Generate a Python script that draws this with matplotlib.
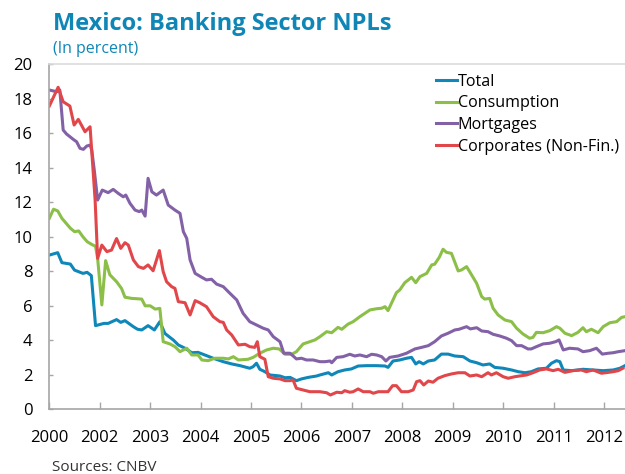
import matplotlib
matplotlib.use("Agg")
import matplotlib.pyplot as plt

# months since the start of the series (Jan of first labelled year = 0)
TOTAL_M = [0, 2, 3, 5, 6, 8, 9, 10, 11, 13, 14, 16, 17, 18, 20, 21, 22, 23.5, 25, 26.3,
           27.5, 28.7, 29.5, 30.7, 32.3, 33.9, 35.4, 37, 39, 41.4, 43.4, 45.4, 47.7, 48.5,
           49.3, 50.1, 51.3, 52.5, 54.9, 56.1, 57.3, 58.8, 60, 61.6, 63.6, 64.4, 66.4, 67.2,
           68.7, 70.3, 71.9, 73.5, 75.5, 77.9, 79.9, 80.6, 81.8, 83.4, 85, 86.2, 87.2, 88,
           89, 90.2, 91.7, 93.3, 94.9, 96.5, 98.5, 100.1, 101.7, 103.2, 104.8, 106, 108,
           110, 111.6, 113.2, 114.7, 116.3, 118.3, 119.5, 120.7, 121.5, 122.3, 124.3, 127,
           129.4, 131.8, 134.2, 135.8, 137]
TOTAL = [8.94, 9.08, 8.5, 8.42, 8.07, 7.88, 7.94, 7.75, 4.85, 4.98, 4.98, 5.2, 5.04, 5.14,
         4.79, 4.64, 4.6, 4.85, 4.6, 5.08, 4.4, 4.17, 4.02, 3.73, 3.54, 3.28, 3.3, 3.15, 2.96,
         2.76, 2.63, 2.53, 2.38, 2.47, 2.67, 2.32, 2.18, 1.99, 1.93, 1.83, 1.85, 1.66, 1.76,
         1.85, 1.93, 1.99, 2.12, 1.99, 2.18, 2.28, 2.34, 2.51, 2.53, 2.53, 2.51, 2.43, 2.8,
         2.86, 2.96, 3.01, 2.63, 2.76, 2.63, 2.8, 2.86, 3.2, 3.2, 3.09, 3.05, 2.8, 2.7, 2.57,
         2.63, 2.43, 2.38, 2.28, 2.18, 2.12, 2.18, 2.34, 2.38, 2.67, 2.82, 2.76, 2.28, 2.24,
         2.32, 2.28, 2.24, 2.28, 2.38, 2.53]

CONS_M = [0, 1, 2, 3, 5, 6, 7, 8, 9, 10, 11, 11.5, 12.5, 13.4, 14.4, 16, 17.2, 18, 19.6, 22,
          22.8, 24, 25.2, 26.3, 27.1, 28.7, 29.9, 31.1, 32.7, 33.9, 35.4, 36.3, 37.8, 39.4,
          41.4, 42.6, 43.8, 45, 47.3, 48.5, 50.1, 51.7, 53.3, 54.7, 56.1, 57.7, 58.8, 60.4,
          62, 63.2, 64.4, 66, 67.2, 68.7, 69.6, 71.1, 72.3, 73.9, 76.3, 77.9, 79.1, 79.9,
          80.6, 82.6, 83.4, 84.6, 86.2, 87.2, 88.2, 89.8, 91, 91.7, 92.8, 93.7, 94.5, 95.7,
          97.3, 98.1, 99.3, 100.5, 101.7, 102.9, 103.6, 104.8, 105.6, 106.8, 108.4, 110,
          111.2, 112.7, 114.3, 115.1, 115.9, 117.5, 119.1, 120.7, 121.5, 122.7, 124.3, 125.8,
          127, 127.8, 129, 130.6, 131.8, 133.4, 135, 136.2, 137]
CONS = [11.07, 11.6, 11.5, 11.07, 10.5, 10.3, 10.34, 10.0, 9.72, 9.57, 9.45, 8.75, 6.05, 8.62,
        7.8, 7.4, 7.0, 6.5, 6.43, 6.39, 6.0, 6.0, 5.81, 5.85, 3.92, 3.79, 3.63, 3.34, 3.54,
        3.15, 3.15, 2.86, 2.82, 2.96, 2.96, 2.92, 3.05, 2.86, 2.9, 3.01, 3.25, 3.44, 3.54,
        3.5, 3.19, 3.19, 3.34, 3.79, 3.92, 4.02, 4.21, 4.5, 4.44, 4.75, 4.64, 4.94, 5.08,
        5.37, 5.76, 5.83, 5.86, 5.95, 5.72, 6.76, 6.92, 7.34, 7.65, 7.34, 7.69, 7.88, 8.37,
        8.41, 8.81, 9.28, 9.1, 9.04, 8.02, 8.08, 8.27, 7.79, 7.3, 6.53, 6.39, 6.43, 5.86,
        5.47, 5.18, 5.08, 4.7, 4.37, 4.12, 4.17, 4.46, 4.44, 4.56, 4.79, 4.7, 4.41, 4.27,
        4.46, 4.73, 4.5, 4.64, 4.44, 4.79, 5.02, 5.08, 5.33, 5.37]

MORT_M = [0, 1.8, 2.5, 3.3, 4.1, 5.7, 6.5, 7.3, 8.1, 8.9, 9.7, 10.1, 10.7, 11.5, 12.6, 14,
          15.2, 16.4, 17.6, 18.2, 19.2, 20.4, 21.4, 22, 22.8, 23.5, 24.4, 25.5, 27.1, 28.3,
          29.9, 31.1, 31.9, 32.7, 33.5, 34.7, 36.3, 37.4, 38.6, 39.8, 41.4, 43, 44.6, 46.1,
          47.7, 49.3, 50.9, 52.1, 53.3, 54.9, 55.8, 57.3, 58.8, 60, 61.2, 62.8, 64.4, 65.6,
          66.8, 67.2, 68.4, 69.9, 71.5, 72.7, 73.9, 75.5, 76.7, 77.9, 79.1, 80.1, 81, 83, 85,
          87, 88.6, 90.2, 91.7, 93.3, 94.9, 96.5, 97.5, 99.3, 100.2, 101.7, 102.9, 104.4,
          105.6, 107.2, 108.8, 110, 111.2, 112.4, 113.9, 114.7, 115.9, 117.5, 119.1, 120.5,
          121.3, 122.3, 123.8, 125.8, 127, 128.6, 130.2, 131.6, 133, 134.2, 135.4, 137]
MORT = [18.51, 18.41, 18.51, 16.19, 15.96, 15.65, 15.51, 15.13, 15.07, 15.26, 15.32, 15.03,
        13.87, 12.13, 12.71, 12.56, 12.75, 12.52, 12.32, 12.42, 11.94, 11.55, 11.46, 11.55,
        11.2, 13.39, 12.61, 12.42, 12.71, 11.84, 11.55, 11.36, 10.3, 9.91, 8.66, 7.88, 7.65,
        7.5, 7.54, 7.26, 7.11, 6.72, 6.34, 5.57, 5.08, 4.89, 4.7, 4.6, 4.21, 3.92, 3.25, 3.25,
        2.92, 2.96, 2.86, 2.86, 2.76, 2.76, 2.8, 2.7, 3.01, 3.05, 3.19, 3.09, 3.15, 3.05, 3.19,
        3.15, 3.05, 2.8, 3.01, 3.09, 3.25, 3.5, 3.59, 3.69, 3.92, 4.25, 4.41, 4.6, 4.64, 4.79,
        4.66, 4.73, 4.54, 4.5, 4.35, 4.25, 4.12, 3.98, 3.69, 3.69, 3.5, 3.5, 3.63, 3.79, 3.83,
        3.92, 4.02, 3.44, 3.54, 3.5, 3.34, 3.4, 3.54, 3.2, 3.25, 3.28, 3.34, 3.4]

CORP_M = [0, 2.1, 3.3, 4.9, 5.9, 6.9, 8.5, 9.7, 10.9, 11.5, 12.5, 13.7, 14.8, 16, 17, 18,
          18.8, 20, 21.2, 22.4, 23.5, 24.7, 26.2, 27.1, 27.9, 29.1, 29.9, 30.7, 32.3, 33.5,
          34.7, 35.8, 37.4, 39, 40.6, 41.4, 42.2, 43.4, 45, 46.6, 47.7, 48.9, 49.5, 50.1,
          51.3, 52.1, 53.3, 54.9, 56.1, 57.3, 58, 58.8, 60.4, 62, 64.4, 66, 66.9, 68.4, 69.6,
          70.3, 71.5, 72.3, 73.5, 74.7, 76.3, 77.1, 78.3, 80.6, 81.7, 82.6, 83.8, 85.4, 86.6,
          87.4, 88.2, 89.1, 90.2, 91.3, 92.5, 94.1, 95.7, 97.3, 98.9, 100.1, 101.7, 102.9,
          104.4, 105.2, 106.4, 108, 109.2, 110.8, 112.4, 113.6, 115.1, 116.7, 118.3, 119.9,
          121.1, 122.7, 124.6, 126.6, 127.8, 129.4, 131.4, 133, 134.2, 135.4, 136.5]
CORP = [17.58, 18.67, 17.83, 17.58, 16.48, 16.81, 16.09, 16.38, 12.13, 8.75, 9.52, 9.14, 9.23,
        9.9, 9.33, 9.66, 9.52, 8.66, 8.27, 8.17, 8.37, 8.03, 9.2, 7.98, 7.4, 7.11, 7.01, 6.24,
        6.18, 5.47, 6.3, 6.18, 5.95, 5.37, 5.08, 5.04, 4.6, 4.31, 3.73, 3.77, 3.63, 3.59, 3.92,
        3.05, 2.9, 1.89, 1.8, 1.76, 1.66, 1.66, 1.7, 1.22, 1.12, 1.02, 1.02, 0.96, 0.83, 0.99,
        0.96, 1.08, 0.99, 1.02, 1.18, 1.02, 1.02, 0.93, 1.02, 1.02, 1.37, 1.37, 1.02, 1.02,
        1.12, 1.6, 1.66, 1.41, 1.64, 1.57, 1.8, 1.95, 2.05, 2.12, 2.12, 1.93, 1.99, 1.89, 2.12,
        1.99, 2.12, 1.89, 1.8, 1.89, 1.95, 1.99, 2.12, 2.28, 2.34, 2.24, 2.32, 2.14, 2.24,
        2.28, 2.18, 2.28, 2.09, 2.14, 2.18, 2.24, 2.38]

YEAR_TICKS = [0, 12, 24, 36, 48, 60, 72, 84, 96, 108, 120, 132]
YEAR_LABELS = ["2000", "2002", "2003", "2004", "2005", "2006", "2007", "2008",
               "2009", "2010", "2011", "2012"]

SERIES = [
    ("Total", TOTAL_M, TOTAL, "#0f87b8"),
    ("Consumption", CONS_M, CONS, "#8bbf48"),
    ("Mortgages", MORT_M, MORT, "#8361a6"),
    ("Corporates (Non-Fin.)", CORP_M, CORP, "#e1474a"),
]

TITLE_BLUE = "#0f86b6"

plt.rcParams["font.family"] = ["Open Sans", "DejaVu Sans"]

fig = plt.figure(figsize=(6.25, 4.74), dpi=100)
ax = fig.add_axes([0.0789, 0.1365, 0.9211, 0.7278])

for name, xs, ys, col in SERIES:
    ax.plot(xs, ys, color=col, lw=2.2, label=name, solid_joinstyle="round")

ax.set_xlim(0, 137)
ax.set_ylim(0, 20)
ax.set_yticks(range(0, 21, 2))
ax.set_xticks(YEAR_TICKS)
ax.set_xticklabels(YEAR_LABELS)
ax.tick_params(axis="x", direction="in", length=5, width=1, color="#a6a6a6",
               pad=15, labelsize=12)
ax.tick_params(axis="y", direction="in", length=3, width=1, color="#a6a6a6",
               pad=12, labelsize=12)
ax.spines["right"].set_visible(False)
ax.spines["top"].set_color("#dcdcdc")
ax.spines["left"].set_color("#a6a6a6")
ax.spines["bottom"].set_color("#a6a6a6")
for sp in ax.spines.values():
    sp.set_linewidth(1.2)

leg = ax.legend(loc="upper left", bbox_to_anchor=(436 / 625, 1 - 73.5 / 474),
                bbox_transform=fig.transFigure, frameon=False, fontsize=11.6,
                handlelength=1.3, handletextpad=0.05, labelspacing=0.36,
                borderpad=0, borderaxespad=0)

fig.text(53 / 625, 1 - 29.5 / 474, "Mexico: Banking Sector NPLs", color=TITLE_BLUE,
         fontsize=17, fontweight="bold", va="baseline", ha="left")
fig.text(53 / 625, 1 - 53 / 474, "(In percent)", color=TITLE_BLUE,
         fontsize=11.5, va="baseline", ha="left")
fig.text(52 / 625, 1 - 471 / 474, "Sources: CNBV", color="#333333",
         fontsize=11, va="baseline", ha="left")

fig.savefig("out.png", dpi=100)
